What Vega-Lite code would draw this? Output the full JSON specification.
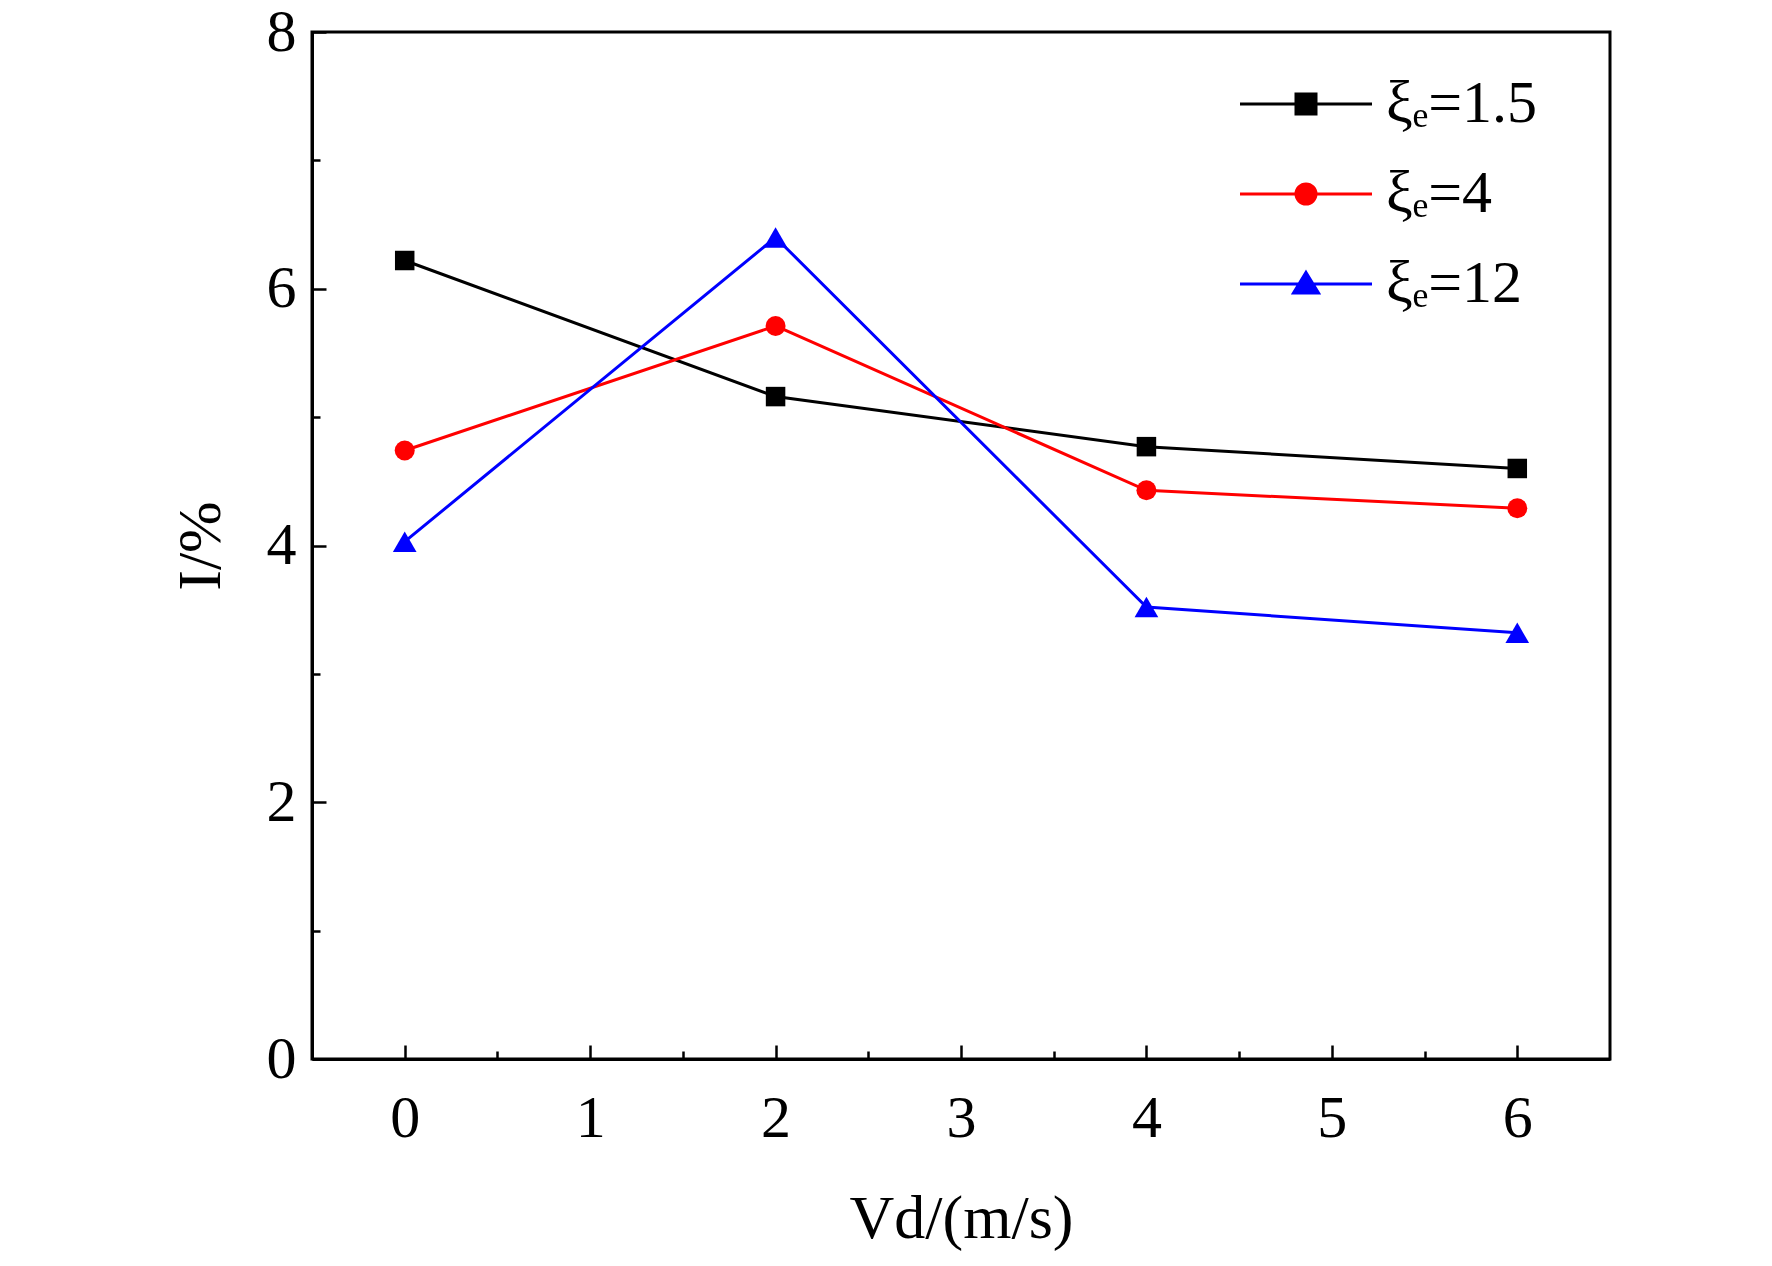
{
  "$schema": "https://vega.github.io/schema/vega-lite/v6.json",
  "autosize": {"type": "none"},
  "padding": {"left": 312, "top": 32, "right": 162, "bottom": 207},
  "width": 1298,
  "height": 1027,
  "background": "white",
  "config": {
    "view": {"stroke": "black", "strokeWidth": 3},
    "font": "Liberation Serif",
    "axis": {
      "domainColor": "black", "domainWidth": 3, "tickColor": "black", "tickWidth": 2.5,
      "grid": false, "labelFont": "Liberation Serif", "labelFontSize": 60, "labelColor": "black",
      "titleFont": "Liberation Serif", "titleFontSize": 62, "titleFontWeight": "normal", "titleColor": "black"
    }
  },
  "data": {
    "values": [
      {"v": 0, "i": 6.22, "s": "1.5"},
      {"v": 2, "i": 5.16, "s": "1.5"},
      {"v": 4, "i": 4.77, "s": "1.5"},
      {"v": 6, "i": 4.60, "s": "1.5"},
      {"v": 0, "i": 4.74, "s": "4"},
      {"v": 2, "i": 5.71, "s": "4"},
      {"v": 4, "i": 4.43, "s": "4"},
      {"v": 6, "i": 4.29, "s": "4"},
      {"v": 0, "i": 4.03, "s": "12"},
      {"v": 2, "i": 6.40, "s": "12"},
      {"v": 4, "i": 3.52, "s": "12"},
      {"v": 6, "i": 3.32, "s": "12"}
    ]
  },
  "encoding": {
    "x": {
      "field": "v", "type": "quantitative",
      "scale": {"domain": [-0.5, 6.5], "nice": false, "zero": false},
      "axis": {
        "title": "Vd/(m/s)",
        "values": [0, 0.5, 1, 1.5, 2, 2.5, 3, 3.5, 4, 4.5, 5, 5.5, 6],
        "labelExpr": "datum.value % 1 === 0 ? format(datum.value, 'd') : ''",
        "tickSize": {"condition": {"test": "datum.value % 1 !== 0", "value": -8}, "value": -14},
        "labelPadding": 44,
        "titlePadding": 40
      }
    },
    "y": {
      "field": "i", "type": "quantitative",
      "scale": {"domain": [0, 8], "nice": false},
      "axis": {
        "title": "I/%",
        "values": [0, 1, 2, 3, 4, 5, 6, 7, 8],
        "labelExpr": "datum.value % 2 === 0 ? format(datum.value, 'd') : ''",
        "tickSize": {"condition": {"test": "datum.value % 2 !== 0", "value": -8}, "value": -14},
        "labelPadding": 30,
        "titlePadding": 34
      }
    },
    "color": {
      "field": "s", "type": "nominal",
      "scale": {"domain": ["1.5", "4", "12"], "range": ["#000000", "#ff0000", "#0000ff"]},
      "legend": {
        "orient": "none", "legendX": 964, "legendY": 42, "title": null, "padding": 0,
        "symbolSize": 400, "symbolStrokeWidth": 3,
        "labelFont": "Liberation Serif", "labelFontSize": 60, "labelColor": "black",
        "labelOffset": 50, "rowPadding": 30,
        "labelExpr": "'ξₑ=' + datum.label",
        "encode": {
          "symbols": {
            "update": {
              "shape": {"signal": "datum.value === '1.5' ? 'M-6.6,0H6.6M-1,-1H1V1H-1Z' : datum.value === '4' ? 'M-6.6,0H6.6M1,0A1,1 0 1,1 -1,0A1,1 0 1,1 1,0Z' : 'M-6.6,0H6.6M0,-1.15L1.25,0.9L-1.25,0.9Z'"},
              "fill": {"signal": "scale('color', datum.value)"},
              "stroke": {"signal": "scale('color', datum.value)"},
              "strokeWidth": {"value": 3},
              "opacity": {"value": 1}
            }
          }
        }
      }
    }
  },
  "layer": [
    {
      "mark": {"type": "line", "strokeWidth": 3}
    },
    {
      "transform": [{"filter": "datum.s === '1.5'"}],
      "mark": {"type": "point", "filled": true, "opacity": 1, "shape": "square", "size": 380}
    },
    {
      "transform": [{"filter": "datum.s === '4'"}],
      "mark": {"type": "point", "filled": true, "opacity": 1, "shape": "circle", "size": 400}
    },
    {
      "transform": [{"filter": "datum.s === '12'"}],
      "mark": {"type": "point", "filled": true, "opacity": 1, "shape": "triangle-up", "size": 560}
    }
  ]
}
